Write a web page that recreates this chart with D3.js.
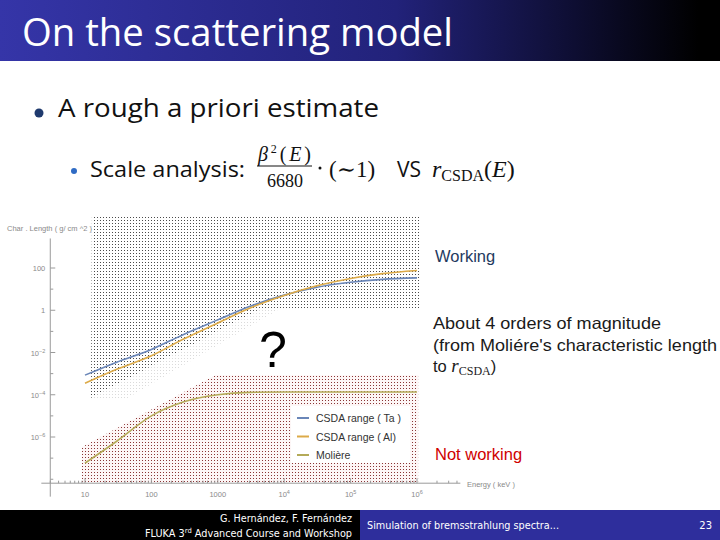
<!DOCTYPE html>
<html><head><meta charset="utf-8">
<script src="https://d3js.org/d3.v7.min.js"></script>
<style>html,body{margin:0;padding:0;background:#fff;}svg{display:block;}</style>
</head><body>
<script>
// ---- data ----
const energies = [10, 30, 100, 300, 1000, 3000, 10000, 30000, 100000, 300000, 1000000]; // keV
const csdaTa   = [8.5e-4, 3.5e-3, 1.4e-2, 7e-2, 0.35, 1.5, 5.2, 12, 21, 29, 34];
const csdaAl   = [3.5e-4, 1.6e-3, 7e-3, 4.2e-2, 0.25, 1.25, 5, 14, 32, 54, 76];
const moliere  = [5.8e-8, 6.3e-7, 1e-5, 4.5e-5, 1e-4, 1.3e-4, 1.35e-4, 1.35e-4, 1.35e-4, 1.35e-4, 1.35e-4];
const seriesNames = ["CSDA  range  ( Ta )", "CSDA  range  ( Al)", "Molière"];
const seriesColors = ["#6a86b8", "#dcaa48", "#b4aa58"];
const yMajorTicks = [1e-6, 1e-4, 1e-2, 1, 100];
const yMajorLabels = [["10","−6"],["10","−4"],["10","−2"],["1",""],["100",""]];
const yMinorTicks = [1e-8, 1e-7, 1e-5, 1e-3, 0.1, 10];
const xMajorTicks = [10, 100, 1000, 1e4, 1e5, 1e6];
const xMajorLabels = [["10",""],["100",""],["1000",""],["10","4"],["10","5"],["10","6"]];
// annotation regions in (energy, length) data space
const regionWorking = [[12.7, 2.6e4],[1.11e6, 2.6e4],[1.11e6, 1.28],[4630, 1.28],[12.3, 7.0e-5]];
const regionFaint   = [[4630, 1.28],[9000, 1.28],[40, 6.0e-5],[12.3, 7.0e-5]];
const regionNotWorking = [[9.0, 3.4e-7],[908, 8.4e-4],[1.04e6, 8.4e-4],[1.04e6, 7.4e-9],[9.0, 7.4e-9]];

const W = 720, H = 540;
const svg = d3.select("body").append("svg").attr("width", W).attr("height", H);
const defs = svg.append("defs");

// title gradient
const g1 = defs.append("linearGradient").attr("id","titleGrad").attr("x1","0").attr("x2","1");
g1.append("stop").attr("offset","0").attr("stop-color","#3535a8");
g1.append("stop").attr("offset","0.55").attr("stop-color","#22227a");
g1.append("stop").attr("offset","0.97").attr("stop-color","#000");
// dot patterns
const p1 = defs.append("pattern").attr("id","dotDark").attr("patternUnits","userSpaceOnUse").attr("width",3).attr("height",3);
p1.append("rect").attr("x",1).attr("y",1).attr("width",1).attr("height",1).attr("fill","#4a4a4a");
const p2 = defs.append("pattern").attr("id","dotRed").attr("patternUnits","userSpaceOnUse").attr("width",3).attr("height",3);
p2.append("rect").attr("width",3).attr("height",3).attr("fill","#fdf6f6");
p2.append("rect").attr("x",1).attr("y",1).attr("width",1).attr("height",1).attr("fill","#8a3535");
const p3 = defs.append("pattern").attr("id","dotFaint").attr("patternUnits","userSpaceOnUse").attr("width",3).attr("height",3);
p3.append("rect").attr("x",1).attr("y",1).attr("width",1).attr("height",1).attr("fill","#dadada");

// ---- slide chrome ----
svg.append("rect").attr("x",0).attr("y",0).attr("width",W).attr("height",61).attr("fill","url(#titleGrad)");
svg.append("text").attr("x",22).attr("y",46).attr("fill","#fff")
  .attr("font-family","'Open Sans', sans-serif").attr("font-size",38)
  .attr("textLength",431).attr("lengthAdjust","spacingAndGlyphs").text("On the scattering model");

svg.append("circle").attr("cx",39).attr("cy",113).attr("r",4.5).attr("fill","#1f3a6e");
svg.append("text").attr("x",58).attr("y",117).attr("fill","#111")
  .attr("font-family","'Open Sans', sans-serif").attr("font-size",25)
  .attr("textLength",321).attr("lengthAdjust","spacingAndGlyphs").text("A rough a priori estimate");

svg.append("circle").attr("cx",74).attr("cy",171).attr("r",3).attr("fill","#2f6bc4");
svg.append("text").attr("x",90).attr("y",177).attr("fill","#111")
  .attr("font-family","'Open Sans', sans-serif").attr("font-size",21)
  .attr("textLength",155).attr("lengthAdjust","spacingAndGlyphs").text("Scale analysis:");
const mathF = "'Liberation Serif','DejaVu Serif',serif";
const num = svg.append("text").attr("x",258).attr("y",161).attr("fill","#111").attr("font-family",mathF).attr("font-size",20)
  .attr("textLength",53).attr("lengthAdjust","spacing");
num.append("tspan").attr("font-style","italic").text("β");
num.append("tspan").attr("font-size",12).attr("dy",-8).text("2");
num.append("tspan").attr("dy",8).text("(");
num.append("tspan").attr("font-style","italic").text("E");
num.append("tspan").text(")");
svg.append("line").attr("x1",257).attr("x2",312).attr("y1",166).attr("y2",166).attr("stroke","#111").attr("stroke-width",1);
svg.append("text").attr("x",285).attr("y",187).attr("text-anchor","middle").attr("fill","#111").attr("font-family",mathF).attr("font-size",18).text("6680");
svg.append("circle").attr("cx",320).attr("cy",168).attr("r",1.5).attr("fill","#111");
svg.append("text").attr("x",329).attr("y",177).attr("fill","#111").attr("font-family",mathF).attr("font-size",23).text("(∼1)");
svg.append("text").attr("x",397).attr("y",177).attr("fill","#111").attr("font-family","'Open Sans', sans-serif").attr("font-size",21).text("VS");
const rc = svg.append("text").attr("x",432).attr("y",177).attr("fill","#111").attr("font-family",mathF).attr("font-size",24);
rc.append("tspan").attr("font-style","italic").text("r");
rc.append("tspan").attr("font-size",16).attr("dy",4).text("CSDA");
rc.append("tspan").attr("dy",-4).text("(");
rc.append("tspan").attr("font-style","italic").text("E");
rc.append("tspan").text(")");

// footer
svg.append("rect").attr("x",0).attr("y",510).attr("width",360).attr("height",30).attr("fill","#000");
svg.append("rect").attr("x",360).attr("y",510).attr("width",360).attr("height",30).attr("fill","#2e2e9c");
const ff = "'DejaVu Sans', sans-serif";
svg.append("text").attr("x",352).attr("y",522).attr("text-anchor","end").attr("fill","#fff").attr("font-family",ff).attr("font-size",10)
  .attr("textLength",132).attr("lengthAdjust","spacingAndGlyphs").text("G. Hernández, F. Fernández");
const fl = svg.append("text").attr("x",145).attr("y",537).attr("fill","#fff").attr("font-family",ff).attr("font-size",10)
  .attr("textLength",207).attr("lengthAdjust","spacingAndGlyphs");
fl.append("tspan").text("FLUKA 3");
fl.append("tspan").attr("font-size",7).attr("dy",-4).text("rd");
fl.append("tspan").attr("dy",4).text(" Advanced Course and Workshop");
svg.append("text").attr("x",367).attr("y",529).attr("fill","#fff").attr("font-family",ff).attr("font-size",10)
  .attr("textLength",192).attr("lengthAdjust","spacingAndGlyphs").text("Simulation of bremsstrahlung spectra...");
svg.append("text").attr("x",712).attr("y",529).attr("text-anchor","end").attr("fill","#fff").attr("font-family",ff).attr("font-size",10).text("23");

// ---- chart ----
const x = d3.scaleLog().domain([10, 1e6]).range([85, 417]);
const y = d3.scaleLog().domain([1e-6, 100]).range([437, 268]);
const xAxisAt = 6.5e-9, yAxisAt = 3;

const poly = d3.line().x(d => x(d[0])).y(d => y(d[1]));
svg.append("path").attr("d", poly(regionWorking) + "Z").attr("fill","url(#dotDark)");
svg.append("path").attr("d", poly(regionFaint) + "Z").attr("fill","url(#dotFaint)");
svg.append("path").attr("d", poly(regionNotWorking) + "Z").attr("fill","url(#dotRed)");

// axes
const axisColor = "#9a9a9a", labColor = "#8a8a8a", tickF = "'Liberation Sans', Arial, sans-serif";
const ax = svg.append("g");
const x0 = x(yAxisAt), y0 = y(xAxisAt);
ax.append("line").attr("x1",x0).attr("x2",x0).attr("y1",y(2500)).attr("y2",y(1.5e-9)).attr("stroke",axisColor);
ax.append("line").attr("x1",x(2.2)).attr("x2",x(4.5e6)).attr("y1",y0).attr("y2",y0).attr("stroke",axisColor);
// y ticks
ax.selectAll(".ymaj").data(yMajorTicks).join("line").attr("x1",x0).attr("x2",x0+5)
  .attr("y1",d=>y(d)).attr("y2",d=>y(d)).attr("stroke",axisColor);
ax.selectAll(".ymin").data(yMinorTicks).join("line").attr("class","ymin").attr("x1",x0).attr("x2",x0+3)
  .attr("y1",d=>y(d)).attr("y2",d=>y(d)).attr("stroke",axisColor);
yMajorTicks.forEach((v,i) => {
  const t = ax.append("text").attr("x",x0-5).attr("y",y(v)+3).attr("text-anchor","end")
    .attr("fill",labColor).attr("font-family",tickF).attr("font-size",7.5);
  t.append("tspan").text(yMajorLabels[i][0]);
  if (yMajorLabels[i][1]) t.append("tspan").attr("font-size",5.5).attr("dy",-3).text(yMajorLabels[i][1]);
});
// x ticks
const xMinor = [];
[1,10,100,1000,1e4,1e5,1e6].forEach(dec => { for (let k=2;k<=9;k++){ const v=dec*k; if (v>=2.5 && v<=4.5e6) xMinor.push(v);} });
ax.selectAll(".xmin").data(xMinor).join("line").attr("class","xmin").attr("x1",d=>x(d)).attr("x2",d=>x(d))
  .attr("y1",y0).attr("y2",y0-2.5).attr("stroke",axisColor);
ax.selectAll(".xmaj").data(xMajorTicks).join("line").attr("class","xmaj").attr("x1",d=>x(d)).attr("x2",d=>x(d))
  .attr("y1",y0).attr("y2",y0-5).attr("stroke",axisColor);
xMajorTicks.forEach((v,i) => {
  const t = ax.append("text").attr("x",x(v)).attr("y",y0+14).attr("text-anchor","middle")
    .attr("fill",labColor).attr("font-family",tickF).attr("font-size",7.5);
  t.append("tspan").text(xMajorLabels[i][0]);
  if (xMajorLabels[i][1]) t.append("tspan").attr("font-size",5.5).attr("dy",-3).text(xMajorLabels[i][1]);
});
ax.append("text").attr("x",7).attr("y",231).attr("fill",labColor).attr("font-family",tickF).attr("font-size",7.5)
  .attr("textLength",85).attr("lengthAdjust","spacingAndGlyphs").text("Char .  Length  ( g/ cm ^2 )");
ax.append("text").attr("x",467).attr("y",487).attr("fill",labColor).attr("font-family",tickF).attr("font-size",7.5)
  .text("Energy  ( keV )");

// curves
const line = d3.line().x((d,i)=>x(energies[i])).y(d=>y(d)).curve(d3.curveMonotoneX);
[csdaTa, csdaAl, moliere].forEach((s,i) => {
  svg.append("path").attr("d", line(s)).attr("fill","none").attr("stroke",seriesColors[i]).attr("stroke-width",1.6);
});

// legend
const lg = svg.append("g").attr("transform","translate(291,406)");
lg.append("rect").attr("width",119).attr("height",57).attr("fill","#fff");
seriesNames.forEach((n,i) => {
  const yy = 12 + i*18.5;
  lg.append("line").attr("x1",6).attr("x2",18).attr("y1",yy).attr("y2",yy).attr("stroke",seriesColors[i]).attr("stroke-width",2);
  lg.append("text").attr("x",25).attr("y",yy+4).attr("fill","#333").attr("font-family",tickF).attr("font-size",10.5).text(n);
});

// annotations
const af = "'Liberation Sans', Arial, sans-serif";
svg.append("text").attr("x",435).attr("y",262).attr("fill","#1f3a5f").attr("font-family",af).attr("font-size",16.5).text("Working");
svg.append("text").attr("x",435).attr("y",460).attr("fill","#d00000").attr("font-family",af).attr("font-size",16.5).text("Not working");
svg.append("text").attr("x",433).attr("y",329).attr("fill","#1a1a1a").attr("font-family",af).attr("font-size",16.5)
  .attr("textLength",228).attr("lengthAdjust","spacingAndGlyphs").text("About 4 orders of magnitude");
svg.append("text").attr("x",433).attr("y",351).attr("fill","#1a1a1a").attr("font-family",af).attr("font-size",16.5)
  .attr("textLength",284).attr("lengthAdjust","spacingAndGlyphs").text("(from Moliére's characteristic length");
const tr = svg.append("text").attr("x",433).attr("y",372).attr("fill","#1a1a1a").attr("font-family",af).attr("font-size",16.5);
tr.append("tspan").text("to ");
tr.append("tspan").attr("font-family",mathF).attr("font-style","italic").attr("font-size",19).text("r");
tr.append("tspan").attr("font-family",mathF).attr("font-size",12).attr("dy",3).text("CSDA");
tr.append("tspan").attr("dy",-3).text(")");
svg.append("text").attr("x",273).attr("y",367).attr("text-anchor","middle").attr("fill","#000").attr("font-family",af).attr("font-size",50).text("?");
</script>
</body></html>
